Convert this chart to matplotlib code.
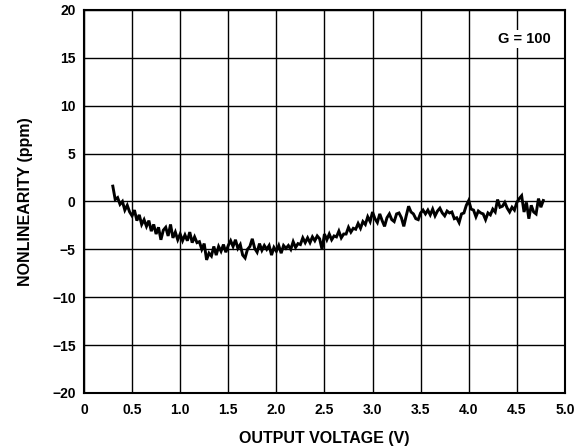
import numpy as np
import matplotlib
matplotlib.use("Agg")
import matplotlib.pyplot as plt

plt.rcParams['font.family'] = ['Liberation Sans', 'DejaVu Sans']

x_ticks = [0, 0.5, 1.0, 1.5, 2.0, 2.5, 3.0, 3.5, 4.0, 4.5, 5.0]
x_tick_labels = ["0", "0.5", "1.0", "1.5", "2.0", "2.5", "3.0", "3.5", "4.0", "4.5", "5.0"]
y_ticks = [-20, -15, -10, -5, 0, 5, 10, 15, 20]
y_tick_labels = ["\u221220", "\u221215", "\u221210", "\u22125", "0", "5", "10", "15", "20"]

voltage_start = 0.30
voltage_end = 4.775
nonlinearity = [
    1.6, 0.2, 0.4, -0.3, 0.0, -0.9, -0.4, -1.1, -1.5, -0.9,
    -2.0, -1.4, -2.4, -1.9, -2.6, -2.0, -3.1, -2.4, -3.4, -2.7,
    -4.0, -3.0, -2.7, -3.6, -2.4, -3.8, -3.2, -4.0, -3.4, -4.1,
    -3.5, -4.1, -3.2, -4.3, -3.7, -4.3, -4.2, -5.0, -4.4, -6.1,
    -5.4, -5.7, -4.7, -5.6, -4.7, -5.2, -4.5, -5.3, -4.6, -4.1,
    -4.7, -4.0, -4.9, -4.5, -5.6, -5.9, -5.0, -4.7, -3.9, -4.9,
    -5.3, -4.4, -5.1, -4.6, -5.0, -4.6, -5.6, -4.8, -5.2, -4.6,
    -5.4, -4.6, -4.9, -4.6, -5.0, -4.2, -4.8, -4.4, -4.5, -3.8,
    -4.3, -3.8, -4.3, -3.7, -4.1, -3.6, -3.9, -5.0, -3.4, -4.0,
    -3.4, -4.0, -3.6, -3.7, -3.1, -3.8, -3.4, -3.4, -2.7, -3.2,
    -2.8, -2.9, -2.3, -2.8, -2.1, -2.4, -1.6, -2.1, -1.1, -1.8,
    -2.2, -1.3, -2.0, -2.6, -1.7, -1.3, -1.9, -2.1, -1.3, -1.2,
    -1.7, -2.6, -1.5, -0.5, -1.1, -1.3, -1.8, -1.9, -1.2, -0.9,
    -1.3, -0.9, -1.4, -0.8, -1.5, -1.0, -0.7, -1.2, -1.5, -1.0,
    -1.2, -1.1, -1.8, -1.7, -2.2, -1.3, -1.2, -0.4, 0.1, -0.8,
    -0.9, -1.6, -1.0, -1.2, -1.3, -1.9, -1.2, -1.4, -0.8, -1.1,
    0.2, -0.6, -0.5, -0.1, -0.7, -1.1, -0.6, -0.9, -0.1, 0.3,
    0.6, -1.1, -0.1, -1.8, -0.4, -1.1, -1.3, 0.3, -0.6, 0.1,
]
voltage = np.linspace(voltage_start, voltage_end, len(nonlinearity))

fig = plt.figure(figsize=(5.83, 4.48), dpi=100)
ax = fig.add_axes([0.144, 0.1228, 0.825, 0.855])

ax.plot(voltage, nonlinearity, color='black', lw=2.1, zorder=3,
        solid_joinstyle='miter')

ax.set_xlim(0, 5.0)
ax.set_ylim(-20, 20)
ax.set_xticks(x_ticks)
ax.set_xticklabels(x_tick_labels)
ax.set_yticks(y_ticks)
ax.set_yticklabels(y_tick_labels)
ax.tick_params(length=0, labelsize=10)
ax.tick_params(axis='x', pad=7)
ax.tick_params(axis='y', pad=6)
for lab in ax.get_xticklabels() + ax.get_yticklabels():
    lab.set_fontweight('bold')
ax.grid(True, color='black', lw=1.0)
ax.set_axisbelow(True)
for sp in ax.spines.values():
    sp.set_linewidth(1.5)

ax.set_xlabel("OUTPUT VOLTAGE (V)", fontsize=11.5, fontweight='bold', labelpad=10)
ax.set_ylabel("NONLINEARITY (ppm)", fontsize=11.5, fontweight='bold', labelpad=14)

ax.text(4.58, 17.0, "G = 100", fontsize=10.5, fontweight='bold', ha='center', va='center',
        bbox=dict(facecolor='white', edgecolor='none', pad=1.5), zorder=4)

fig.savefig("out.png", dpi=100)
